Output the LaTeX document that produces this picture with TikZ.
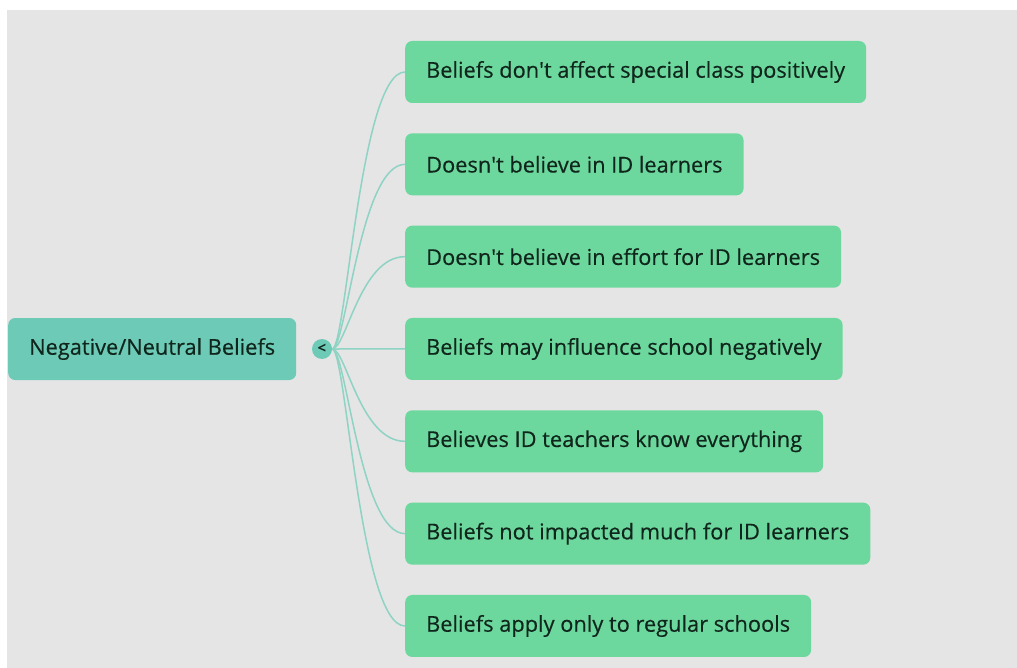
\documentclass[tikz,border=0pt]{standalone}
\usepackage{fontspec}
\setmainfont{Open Sans}
\newfontfamily\labelfont[FakeBold=0.4]{Open Sans}
\usetikzlibrary{positioning}

\definecolor{canvas}{HTML}{E5E5E5}
\definecolor{rootteal}{HTML}{6DCAB6}
\definecolor{leafgreen}{HTML}{6DD89D}
\definecolor{linkteal}{HTML}{8ED3C3}
\definecolor{inkgreen}{HTML}{10261C}

\begin{document}
\begin{tikzpicture}[
        x=1pt, y=-1pt,
        every node/.append style={
          text = inkgreen,
          font = \labelfont\fontsize{21.8}{26}\selectfont,
        },
        rootbox/.style={
          rectangle, rounded corners=7pt,
          fill = rootteal,
          minimum height = 62pt,
          inner xsep = 21pt,
          anchor = west,
        },
        leafbox/.style={
          rectangle, rounded corners=7pt,
          fill = leafgreen,
          minimum height = 62pt,
          inner xsep = 21pt,
          anchor = west,
        },
        toggle/.style={
          circle, fill = rootteal,
          minimum size = 20pt, inner sep = 0pt,
          font = \fontsize{15}{15}\selectfont\bfseries,
        },
        link/.style={
          draw = linkteal, line width = 1.5pt,
        },
        ]
        \useasboundingbox (0,0) rectangle (1017,668);
        \fill[canvas] (7,10) rectangle (1017,668);

        \node [rootbox] (root) at (8,349) {Negative/Neutral Beliefs};
        \node [toggle] (fold) at (322,349) {<};

        \foreach \i/\txt in {
            1/Beliefs don\textquotesingle t affect special class positively,
            2/Doesn\textquotesingle t believe in ID learners,
            3/Doesn\textquotesingle t believe in effort for ID learners,
            4/Beliefs may influence school negatively,
            5/Believes ID teachers know everything,
            6/Beliefs not impacted much for ID learners,
            7/Beliefs apply only to regular schools} {
          \node [leafbox] (leaf\i) at (405, {72 + (\i-1)*92.33}) {\txt};
          \draw [link] (fold.east) .. controls +(14,0) and +(-45,0) .. (leaf\i.west);
        }
      \end{tikzpicture}
\end{document}
